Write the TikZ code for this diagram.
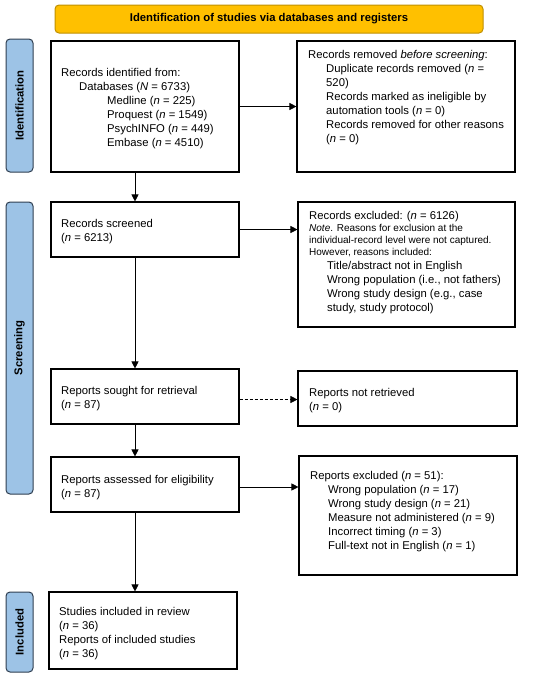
\documentclass[tikz,border=0pt]{standalone}
\usepackage{fontspec}
\setmainfont{Liberation Sans}
\usetikzlibrary{arrows.meta}
\definecolor{bannerfill}{HTML}{FFC000}
\definecolor{bannerline}{HTML}{BF9000}
\definecolor{sidefill}{HTML}{9DC3E6}
\definecolor{sideline}{HTML}{2F3E50}
\begin{document}
\begin{tikzpicture}[x=1pt,y=-1pt,
  box/.style={draw, line width=1.1pt, inner sep=0pt},
  txt/.style={anchor=north west, inner sep=0pt, align=left, font=\fontsize{11.3}{14}\selectfont},
  smalltxt/.style={anchor=north west, inner sep=0pt, align=left, font=\fontsize{10}{12}\selectfont},
  arr/.style={-{Triangle[length=7pt,width=7pt]}, line width=0.7pt},
  sidebar/.style={draw=sideline, fill=sidefill, rounded corners=4pt, line width=1pt, inner sep=0pt},
  sidelabel/.style={rotate=90, font=\fontsize{11.3}{14}\selectfont\bfseries, inner sep=0pt}
]
\useasboundingbox (0,0) rectangle (550,678);

% banner
\node[draw=bannerline, fill=bannerfill, rounded corners=4pt, line width=1pt,
      minimum width=428pt, minimum height=28pt, inner sep=0pt,
      font=\fontsize{11.3}{14}\selectfont\bfseries] (banner) at (269,19)
      {Identification of studies via databases and registers};

% sidebars
\node[sidebar, minimum width=27pt, minimum height=133pt] (sideid) at (19.5,105.5) {};
\node[sidelabel] (sideidlab) at (sideid.center) {Identification};
\node[sidebar, minimum width=27pt, minimum height=292pt] (sidescr) at (19.5,348) {};
\node[sidelabel] (sidescrlab) at (sidescr.center) {Screening};
\node[sidebar, minimum width=27pt, minimum height=80pt] (sideinc) at (19.5,632) {};
\node[sidelabel] (sideinclab) at (sideinc.center) {Included};

% boxes
\node[box, minimum width=188pt, minimum height=131pt] (id) at (145,106.5) {};
\node[box, minimum width=218pt, minimum height=131pt] (rem) at (406,106.5) {};
\node[box, minimum width=188pt, minimum height=55pt] (scr) at (145,229.5) {};
\node[box, minimum width=217pt, minimum height=125pt] (exc) at (406.5,264.5) {};
\node[box, minimum width=188pt, minimum height=55pt] (sought) at (145,396.5) {};
\node[box, minimum width=219pt, minimum height=55pt] (notret) at (407.5,398.5) {};
\node[box, minimum width=188pt, minimum height=55pt] (assess) at (145,484.5) {};
\node[box, minimum width=218pt, minimum height=119pt] (repexc) at (408,515.5) {};
\node[box, minimum width=188pt, minimum height=77pt] (incl) at (143,630.5) {};

% texts
\node[txt] (idtxt) at (61,66.2) {\strut Records identified from:\\
\hspace*{18pt}Databases (\textit{N} = 6733)\\
\hspace*{46pt}Medline (\textit{n} = 225)\\
\hspace*{46pt}Proquest (\textit{n} = 1549)\\
\hspace*{46pt}PsychINFO (\textit{n} = 449)\\
\hspace*{46pt}Embase (\textit{n} = 4510)};

\node[txt] (remtxt) at (308,48.2) {\strut Records removed \textit{before screening}:\\
\hspace*{18pt}Duplicate records removed (\textit{n} =\\
\hspace*{18pt}520)\\
\hspace*{18pt}Records marked as ineligible by\\
\hspace*{18pt}automation tools (\textit{n} = 0)\\
\hspace*{18pt}Records removed for other reasons\\
\hspace*{18pt}(\textit{n} = 0)};

\node[txt] (scrtxt) at (61,217.2) {\strut Records screened\\(\textit{n} = 6213)};

\node[txt] (exctxt) at (309,209.2) {\strut Records excluded: (\textit{n} = 6126)};
\node[smalltxt] (excnote) at (309,223.1) {\strut\textit{Note}. Reasons for exclusion at the\\
individual-record level were not captured.\\
However, reasons included:};
\node[txt] (excreasons) at (327,259.2) {\strut Title/abstract not in English\\
Wrong population (i.e., not fathers)\\
Wrong study design (e.g., case\\
study, study protocol)};

\node[txt] (soughttxt) at (61,384.2) {\strut Reports sought for retrieval\\(\textit{n} = 87)};
\node[txt] (notrettxt) at (309,386.2) {\strut Reports not retrieved\\(\textit{n} = 0)};
\node[txt] (assesstxt) at (61,473.2) {\strut Reports assessed for eligibility\\(\textit{n} = 87)};
\node[txt] (repexctxt) at (310,469.2) {\strut Reports excluded (\textit{n} = 51):\\
\hspace*{18pt}Wrong population (\textit{n} = 17)\\
\hspace*{18pt}Wrong study design (\textit{n} = 21)\\
\hspace*{18pt}Measure not administered (\textit{n} = 9)\\
\hspace*{18pt}Incorrect timing (\textit{n} = 3)\\
\hspace*{18pt}Full-text not in English (\textit{n} = 1)};
\node[txt] (incltxt) at (59,605.2) {\strut Studies included in review\\
(\textit{n} = 36)\\
Reports of included studies\\
(\textit{n} = 36)};

% connectors
\draw[arr] (id.east) -- (rem.west);
\draw[arr] (scr.east) -- (scr.east -| exc.west);
\draw[arr, dash pattern=on 3pt off 2pt] ([yshift=-3pt]sought.east) -- ([yshift=-3pt]sought.east -| notret.west);
\draw[arr] ([yshift=-2.5pt]assess.east) -- ([yshift=-2.5pt]assess.east -| repexc.west);

\draw[arr] ([xshift=-10pt]id.south) -- ([xshift=-10pt]id.south |- scr.north);
\draw[arr] ([xshift=-10pt]scr.south) -- ([xshift=-10pt]scr.south |- sought.north);
\draw[arr] ([xshift=-10pt]sought.south) -- ([xshift=-10pt]sought.south |- assess.north);
\draw[arr] ([xshift=-10pt]assess.south) -- ([xshift=-10pt]assess.south |- incl.north);
\end{tikzpicture}
\end{document}
